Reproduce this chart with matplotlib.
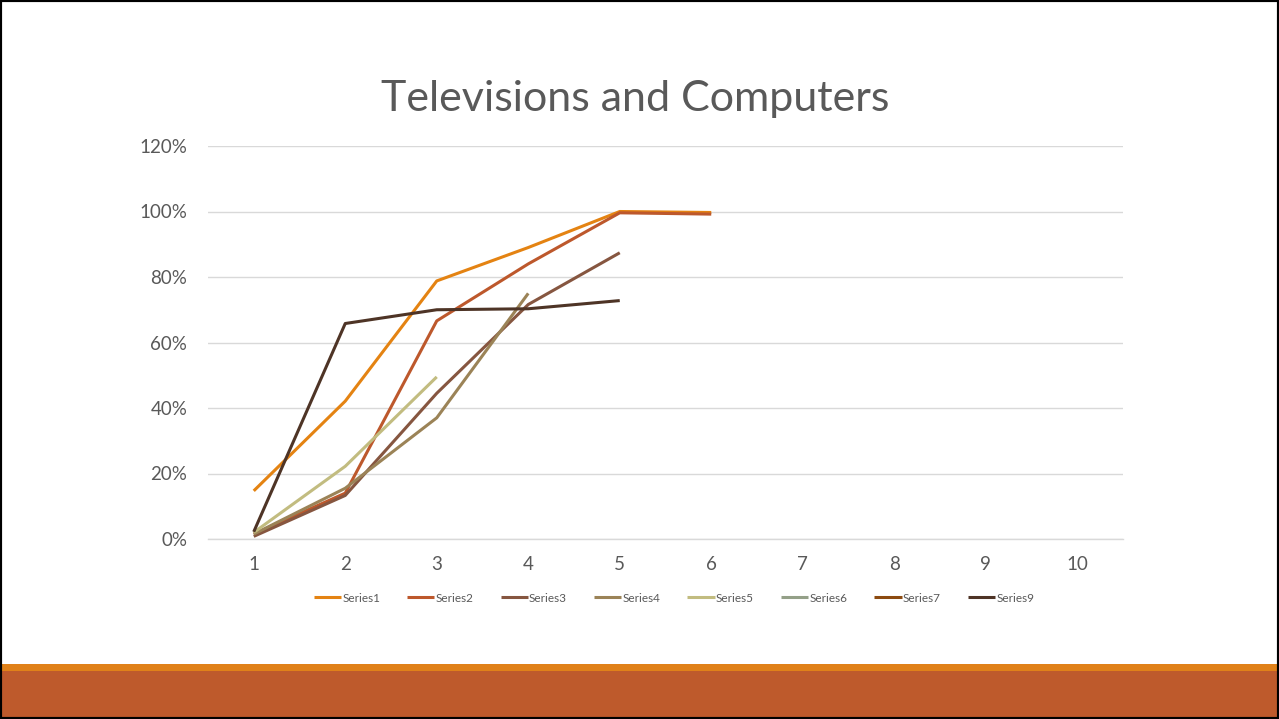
import matplotlib
matplotlib.use("Agg")
import matplotlib.pyplot as plt
from matplotlib.patches import Rectangle
from matplotlib.ticker import PercentFormatter

plt.rcParams['font.family'] = ['Lato', 'DejaVu Sans']

categories = [1, 2, 3, 4, 5, 6, 7, 8, 9, 10]
series_names = ["Series1", "Series2", "Series3", "Series4", "Series5",
                "Series6", "Series7", "Series9"]
series1 = [0.147, 0.421, 0.788, 0.890, 1.000, 0.997]
series2 = [0.015, 0.140, 0.666, 0.840, 0.996, 0.992]
series3 = [0.008, 0.133, 0.445, 0.716, 0.874]
series4 = [0.015, 0.155, 0.370, 0.750]
series5 = [0.020, 0.222, 0.495]
series6 = []
series7 = []
series9 = [0.022, 0.658, 0.700, 0.703, 0.728]
series_values = [series1, series2, series3, series4, series5,
                 series6, series7, series9]
colors = ["#E48312", "#BD582C", "#865640", "#9B8357", "#C2BC80",
          "#94A088", "#8C4A10", "#4E3426"]
y_ticks = [0, 0.2, 0.4, 0.6, 0.8, 1.0, 1.2]

W, H = 1279, 719
fig = plt.figure(figsize=(W / 100, H / 100), dpi=100)
fig.patch.set_facecolor("white")

# footer bands
fig.add_artist(Rectangle((0, 2 / H), 1, 46 / H, transform=fig.transFigure,
                         facecolor="#BE5A2C", edgecolor="none", zorder=0))
fig.add_artist(Rectangle((0, 48 / H), 1, 7 / H, transform=fig.transFigure,
                         facecolor="#E08119", edgecolor="none", zorder=0))
# slide frame
fig.add_artist(Rectangle((0, 0), 1, 1, transform=fig.transFigure,
                         facecolor="none", edgecolor="black", lw=3, zorder=5))

ax = fig.add_axes([208 / W, (H - 539) / H, 915 / W, 393 / H])
for name, vals, c in zip(series_names, series_values, colors):
    ax.plot(categories[:len(vals)], vals, color=c, lw=2.2, label=name,
            solid_joinstyle="round", solid_capstyle="butt")

ax.set_xlim(0.5, 10.5)
ax.set_ylim(0, 1.2)
ax.set_xticks(categories)
ax.set_yticks(y_ticks)
ax.yaxis.set_major_formatter(PercentFormatter(1.0, decimals=0))
ax.grid(axis="y", color="#D9D9D9", lw=1)
ax.set_axisbelow(True)
for s in ["top", "right", "left"]:
    ax.spines[s].set_visible(False)
ax.spines["bottom"].set_color("#D9D9D9")
ax.spines["bottom"].set_linewidth(1)
ax.tick_params(axis="both", length=0, colors="#595959", labelsize=13.5)
ax.tick_params(axis="y", pad=15)
ax.tick_params(axis="x", pad=12)

fig.text(0.497, (H - 111) / H, "Televisions and Computers", ha="center",
         va="baseline", fontsize=31, color="#595959")

handles, labels = ax.get_legend_handles_labels()
fig.legend(handles, labels, loc="center", bbox_to_anchor=(0.527, (H - 598) / H),
           ncol=8, frameon=False, fontsize=8.5, labelcolor="#595959",
           handlelength=2.3, handletextpad=0.1, columnspacing=2.3)

fig.savefig("out.png", dpi=100)
